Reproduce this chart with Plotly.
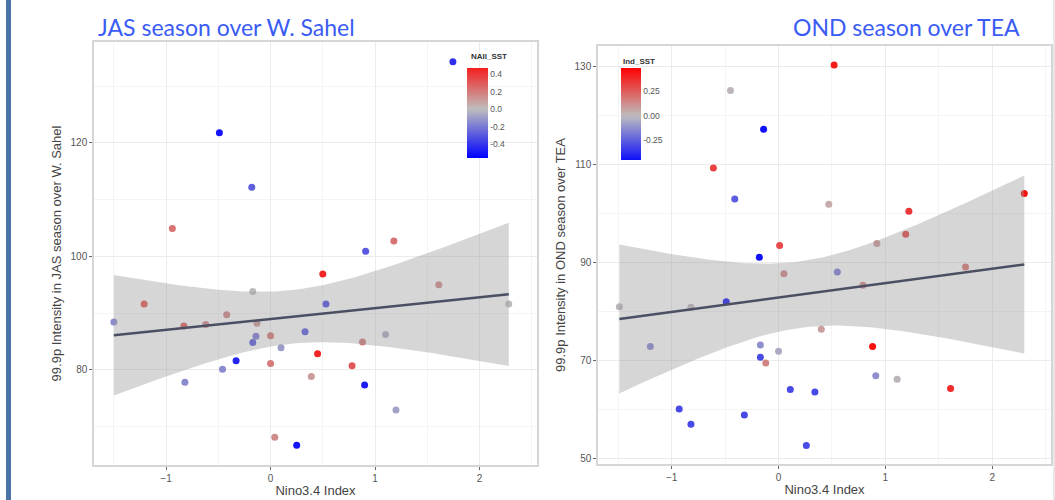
import numpy as np
import plotly.graph_objects as go

# ---------------- data ----------------
# Left panel: JAS season over W. Sahel
jas_nino = [-0.49, -0.18, -0.94, 1.18, 0.91, 1.745, 0.50, 1.61, -0.17, -1.21, 0.53, 2.28,
            -1.50, -0.42, -0.83, -0.62, -0.13, 0.33, -0.14, -0.17, 0.00, 1.10, 0.88, 0.10,
            0.45, -0.33, 0.00, -0.46, 0.78, 0.39, -0.82, 0.90, 1.20, 0.04, 0.25]
jas_intensity = [121.8, 112.2, 104.9, 102.7, 100.9, 134.3, 96.9, 95.0, 93.8, 91.6, 91.6, 91.6,
                 88.4, 89.7, 87.7, 88.0, 88.2, 86.7, 85.9, 84.8, 86.0, 86.2, 84.9, 83.9,
                 82.8, 81.6, 81.1, 80.1, 80.7, 78.8, 77.8, 77.3, 72.9, 68.1, 66.7]
jas_naii_sst = [-0.50, -0.28, 0.22, 0.22, -0.30, -0.42, 0.45, 0.15, 0.00, 0.32, -0.35, 0.00,
                -0.15, 0.18, 0.30, 0.18, 0.12, -0.30, -0.20, -0.30, 0.22, -0.05, 0.20, -0.10,
                0.45, -0.45, 0.20, -0.15, 0.30, 0.10, -0.15, -0.48, -0.08, 0.15, -0.50]

# Right panel: OND season over TEA
ond_nino = [0.52, -0.45, -0.14, -0.61, -0.41, 0.47, 1.22, 2.30, 1.19, 0.92, 0.01, -0.18,
            0.05, 0.55, 1.75, 0.79, -1.49, -0.82, -0.49, 0.40, -1.20, -0.17, 0.88, 0.00,
            -0.17, -0.12, 0.91, 1.11, 0.11, 0.34, 1.61, -0.93, -0.32, -0.82, 0.26]
ond_intensity = [130.2, 125.0, 117.1, 109.2, 102.9, 101.8, 100.4, 104.0, 95.7, 93.8, 93.4, 91.0,
                 87.6, 88.0, 89.0, 85.3, 80.9, 80.8, 81.9, 76.3, 72.8, 73.1, 72.8, 71.8,
                 70.6, 69.4, 66.8, 66.1, 64.0, 63.5, 64.2, 60.0, 58.8, 56.9, 52.6]
ond_ind_sst = [0.42, 0.00, -0.45, 0.32, -0.25, 0.05, 0.35, 0.45, 0.32, 0.10, 0.30, -0.45,
               0.15, -0.18, 0.20, 0.15, 0.00, 0.00, -0.45, 0.08, -0.15, -0.12, 0.45, -0.05,
               -0.30, 0.15, -0.12, 0.00, -0.30, -0.30, 0.38, -0.30, -0.30, -0.30, -0.30]

left_title = "JAS season over W. Sahel"
right_title = "OND season over TEA"
left_ylabel = "99.9p Intensity in JAS season over W. Sahel"
right_ylabel = "99.9p Intensity in OND season over TEA"
xlabel = "Nino3.4 Index"
left_cbar_ticks = [0.4, 0.2, 0.0, -0.2, -0.4]
left_cbar_text = ["0.4", "0.2", "0.0", "-0.2", "-0.4"]
right_cbar_ticks = [0.25, 0.0, -0.25]
right_cbar_text = ["0.25", "0.00", "-0.25"]
T_CRIT = 2.0345  # t quantile (0.975, df=33)


def lm_band(x, y, n_grid=80):
    x = np.asarray(x, float)
    y = np.asarray(y, float)
    n = len(x)
    b, a = np.polyfit(x, y, 1)
    resid = y - (a + b * x)
    s = np.sqrt(np.sum(resid ** 2) / (n - 2))
    sxx = np.sum((x - x.mean()) ** 2)
    g = np.linspace(x.min(), x.max(), n_grid)
    fit = a + b * g
    se = s * np.sqrt(1.0 / n + (g - x.mean()) ** 2 / sxx)
    return g, fit, fit - T_CRIT * se, fit + T_CRIT * se


def gradient2(vmin, vmax, low=(0, 0, 255), mid=(190, 190, 190), high=(255, 0, 0)):
    m = max(abs(vmin), abs(vmax))
    stops = []
    for v in np.linspace(vmin, vmax, 21):
        t = abs(v) / m
        end = high if v > 0 else low
        c = [int(round(mid[i] + (end[i] - mid[i]) * t)) for i in range(3)]
        stops.append([(v - vmin) / (vmax - vmin), "rgb(%d,%d,%d)" % tuple(c)])
    return stops


W, H = 1055, 500
fig = go.Figure()

panels = [
    (jas_nino, jas_intensity, jas_naii_sst, "x", "y", "coloraxis"),
    (ond_nino, ond_intensity, ond_ind_sst, "x2", "y2", "coloraxis2"),
]
for xs, ys, cs, xa, ya, ca in panels:
    fig.add_trace(go.Scatter(
        x=xs, y=ys, mode="markers", xaxis=xa, yaxis=ya, showlegend=False,
        marker=dict(size=7, color=cs, coloraxis=ca, line=dict(width=0)),
        hoverinfo="skip"))
    g, fit, lo, hi = lm_band(xs, ys)
    fig.add_trace(go.Scatter(
        x=np.concatenate([g, g[::-1]]), y=np.concatenate([hi, lo[::-1]]),
        fill="toself", fillcolor="rgba(153,153,153,0.4)", line=dict(width=0),
        mode="lines", xaxis=xa, yaxis=ya, showlegend=False, hoverinfo="skip"))
    fig.add_trace(go.Scatter(
        x=g, y=fit, mode="lines", line=dict(color="#4A4F63", width=2.5),
        xaxis=xa, yaxis=ya, showlegend=False, hoverinfo="skip"))

tickfont = dict(family="Liberation Sans, Arial", size=10, color="#555555")
titlefont = dict(family="Liberation Sans, Arial", size=13, color="#444444")
common_x = dict(
    range=[-1.69, 2.55], dtick=1, tick0=0, ticks="outside", ticklen=3, tickcolor="#666666",
    tickfont=tickfont, showgrid=True, gridcolor="#EBEBEB", gridwidth=1,
    minor=dict(dtick=0.5, tick0=0, showgrid=True, gridcolor="#F4F4F4", ticks=""),
    showline=True, mirror=True, linecolor="#D6D6D6", linewidth=1.5, zeroline=False,
    title=dict(text=xlabel, font=titlefont, standoff=3))
common_y = dict(
    ticks="outside", ticklen=3, tickcolor="#666666", tickfont=tickfont,
    showgrid=True, gridcolor="#EBEBEB", gridwidth=1,
    showline=True, mirror=True, linecolor="#D6D6D6", linewidth=1.5, zeroline=False)

fig.update_layout(
    width=W, height=H, margin=dict(l=0, r=0, t=0, b=0),
    paper_bgcolor="white", plot_bgcolor="white",
    xaxis=dict(common_x, domain=[94 / W, 537 / W], anchor="y"),
    yaxis=dict(common_y, domain=[(H - 465) / H, (H - 42) / H], anchor="x",
               range=[63.2, 137.8], dtick=20, tick0=0,
               minor=dict(dtick=10, tick0=0, showgrid=True, gridcolor="#F4F4F4", ticks=""),
               title=dict(text=left_ylabel, font=titlefont, standoff=6)),
    xaxis2=dict(common_x, domain=[598 / W, 1051 / W], anchor="y2"),
    yaxis2=dict(common_y, domain=[(H - 464) / H, (H - 46) / H], anchor="x2",
                range=[48.8, 134.1], dtick=20, tick0=10,
                minor=dict(dtick=10, tick0=0, showgrid=True, gridcolor="#F4F4F4", ticks=""),
                title=dict(text=right_ylabel, font=titlefont, standoff=6)),
    coloraxis=dict(
        cmin=-0.56, cmax=0.47, colorscale=gradient2(-0.56, 0.47),
        colorbar=dict(x=467 / W, xanchor="left", xpad=0, y=(H - 68) / H, yanchor="top",
                      ypad=0, lenmode="pixels", len=90, thickness=21, outlinewidth=0,
                      tickvals=left_cbar_ticks, ticktext=left_cbar_text, ticks="",
                      tickfont=dict(family="Liberation Sans, Arial", size=8.5, color="#555555"))),
    coloraxis2=dict(
        cmin=-0.45, cmax=0.49, colorscale=gradient2(-0.45, 0.49),
        colorbar=dict(x=621 / W, xanchor="left", xpad=0, y=(H - 68) / H, yanchor="top",
                      ypad=0, lenmode="pixels", len=92, thickness=20, outlinewidth=0,
                      tickvals=right_cbar_ticks, ticktext=right_cbar_text, ticks="",
                      tickfont=dict(family="Liberation Sans, Arial", size=8.5, color="#555555"))),
)

title_font = dict(family="Lato, Open Sans", size=23, color="#3A5CF5")
fig.add_annotation(text=left_title, xref="paper", yref="paper", x=96 / W, y=(H - 27) / H,
                   xanchor="left", yanchor="middle", showarrow=False, font=title_font)
fig.add_annotation(text=right_title, xref="paper", yref="paper", x=791 / W, y=(H - 27) / H,
                   xanchor="left", yanchor="middle", showarrow=False, font=title_font)
legfont = dict(family="Liberation Sans, Arial", size=8, color="#333333")
fig.add_annotation(text="<b>NAIl_SST</b>", xref="paper", yref="paper", x=469 / W, y=(H - 57) / H,
                   xanchor="left", yanchor="middle", showarrow=False, font=legfont)
fig.add_annotation(text="<b>Ind_SST</b>", xref="paper", yref="paper", x=621 / W, y=(H - 61) / H,
                   xanchor="left", yanchor="middle", showarrow=False, font=legfont)

# slide decorations
fig.add_shape(type="rect", xref="paper", yref="paper", x0=6 / W, x1=11 / W, y0=0, y1=1,
              fillcolor="#4A74A5", line=dict(width=0))
fig.add_shape(type="line", xref="paper", yref="paper", x0=1054 / W, x1=1054 / W, y0=0, y1=1,
              line=dict(color="#D0D0D0", width=1))

fig.write_html("out.html", config={"displayModeBar": False},
               post_script="document.body.style.margin='0';document.body.style.overflow='hidden';")
